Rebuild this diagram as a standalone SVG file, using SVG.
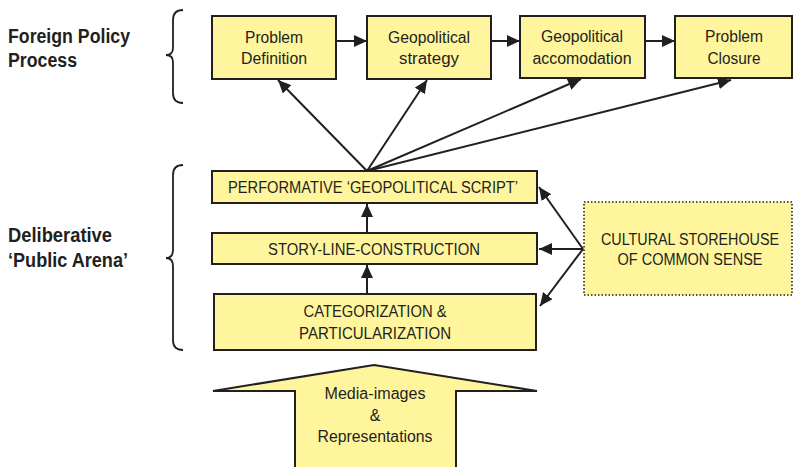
<svg xmlns="http://www.w3.org/2000/svg" width="794" height="467" viewBox="0 0 794 467">
<style>
.box{fill:#FFF59D;stroke:#231F20;stroke-width:2}
.dot{fill:#FFF59D;stroke:#231F20;stroke-width:1.6;stroke-dasharray:1.5 2}
.t{font-family:"Liberation Sans",Arial,sans-serif;font-size:16px;fill:#231F20;text-anchor:middle}
.lbl{font-family:"Liberation Sans",Arial,sans-serif;font-size:20px;font-weight:bold;fill:#231F20}
.ln{stroke:#231F20;stroke-width:2;fill:none}
.br{stroke:#231F20;stroke-width:1.8;fill:none}
</style>
<defs>
<marker id="ah" markerUnits="userSpaceOnUse" markerWidth="14" markerHeight="12" refX="13" refY="6" orient="auto">
<path d="M0,0 L13,6 L0,12 z" fill="#231F20"/>
</marker>
</defs>
<g id="labels">
<text class="lbl" x="8" y="43" textLength="122" lengthAdjust="spacingAndGlyphs">Foreign Policy</text>
<text class="lbl" x="8" y="67" textLength="69" lengthAdjust="spacingAndGlyphs">Process</text>
<text class="lbl" x="8" y="242" textLength="104" lengthAdjust="spacingAndGlyphs">Deliberative</text>
<text class="lbl" x="8" y="267" textLength="120" lengthAdjust="spacingAndGlyphs">‘Public Arena’</text>
</g>
<g id="braces">
<path class="br" d="M183,10 Q173,10 173,20 L173,48 Q173,55 166,55 Q173,55 173,62 L173,93 Q173,103 183,103"/>
<path class="br" d="M183,165 Q173,165 173,175 L173,250 Q173,258 166,258 Q173,258 173,266 L173,340 Q173,350 183,350"/>
</g>
<g id="n-problem-definition">
<rect class="box" x="212" y="16" width="124" height="63"/>
<text class="t" x="274" y="43" textLength="58" lengthAdjust="spacingAndGlyphs">Problem</text>
<text class="t" x="274" y="64" textLength="66" lengthAdjust="spacingAndGlyphs">Definition</text>
</g>
<g id="n-geopolitical-strategy">
<rect class="box" x="367" y="16" width="124" height="63"/>
<text class="t" x="429" y="43" textLength="82" lengthAdjust="spacingAndGlyphs">Geopolitical</text>
<text class="t" x="429" y="64" textLength="60" lengthAdjust="spacingAndGlyphs">strategy</text>
</g>
<g id="n-geopolitical-accomodation">
<rect class="box" x="520" y="16" width="125" height="62"/>
<text class="t" x="582" y="42" textLength="82" lengthAdjust="spacingAndGlyphs">Geopolitical</text>
<text class="t" x="582" y="64" textLength="99" lengthAdjust="spacingAndGlyphs">accomodation</text>
</g>
<g id="n-problem-closure">
<rect class="box" x="675" y="16" width="117" height="62"/>
<text class="t" x="734" y="42" textLength="58" lengthAdjust="spacingAndGlyphs">Problem</text>
<text class="t" x="734" y="64" textLength="53" lengthAdjust="spacingAndGlyphs">Closure</text>
</g>
<g id="n-performative">
<rect class="box" x="212" y="171" width="325" height="32"/>
<text class="t" x="373" y="193" textLength="290" lengthAdjust="spacingAndGlyphs">PERFORMATIVE ‘GEOPOLITICAL SCRIPT’</text>
</g>
<g id="n-story-line">
<rect class="box" x="212" y="233" width="325" height="31"/>
<text class="t" x="374" y="255" textLength="212" lengthAdjust="spacingAndGlyphs">STORY-LINE-CONSTRUCTION</text>
</g>
<g id="n-categorization">
<rect class="box" x="214" y="294" width="322" height="56"/>
<text class="t" x="375" y="317" textLength="143" lengthAdjust="spacingAndGlyphs">CATEGORIZATION &amp;</text>
<text class="t" x="375" y="339" textLength="152" lengthAdjust="spacingAndGlyphs">PARTICULARIZATION</text>
</g>
<g id="n-cultural-storehouse">
<rect class="dot" x="584" y="202" width="208" height="93"/>
<text class="t" x="690" y="245" textLength="178" lengthAdjust="spacingAndGlyphs">CULTURAL STOREHOUSE</text>
<text class="t" x="690" y="265" textLength="145" lengthAdjust="spacingAndGlyphs">OF COMMON SENSE</text>
</g>
<g id="n-media">
<path class="box" d="M374,365 L537,391 L456,391 L456,470 L295,470 L295,391 L213,391 Z"/>
<text class="t" x="375" y="399" textLength="101" lengthAdjust="spacingAndGlyphs">Media-images</text>
<text class="t" x="375" y="421">&amp;</text>
<text class="t" x="375" y="442" textLength="115" lengthAdjust="spacingAndGlyphs">Representations</text>
</g>
<g id="connectors">
<line class="ln" x1="336" y1="41" x2="367" y2="41" marker-end="url(#ah)"/>
<line class="ln" x1="491" y1="41" x2="520" y2="41" marker-end="url(#ah)"/>
<line class="ln" x1="645" y1="41" x2="675" y2="41" marker-end="url(#ah)"/>
<line class="ln" x1="367" y1="171" x2="278" y2="80" marker-end="url(#ah)"/>
<line class="ln" x1="367" y1="171" x2="427" y2="80" marker-end="url(#ah)"/>
<line class="ln" x1="367" y1="171" x2="581" y2="79" marker-end="url(#ah)"/>
<line class="ln" x1="367" y1="171" x2="731" y2="80" marker-end="url(#ah)"/>
<line class="ln" x1="367" y1="233" x2="367" y2="204" marker-end="url(#ah)"/>
<line class="ln" x1="367" y1="294" x2="367" y2="265" marker-end="url(#ah)"/>
<line class="ln" x1="583" y1="249" x2="539" y2="187" marker-end="url(#ah)"/>
<line class="ln" x1="583" y1="249" x2="539" y2="249" marker-end="url(#ah)"/>
<line class="ln" x1="583" y1="249" x2="540" y2="306" marker-end="url(#ah)"/>
</g>
</svg>
